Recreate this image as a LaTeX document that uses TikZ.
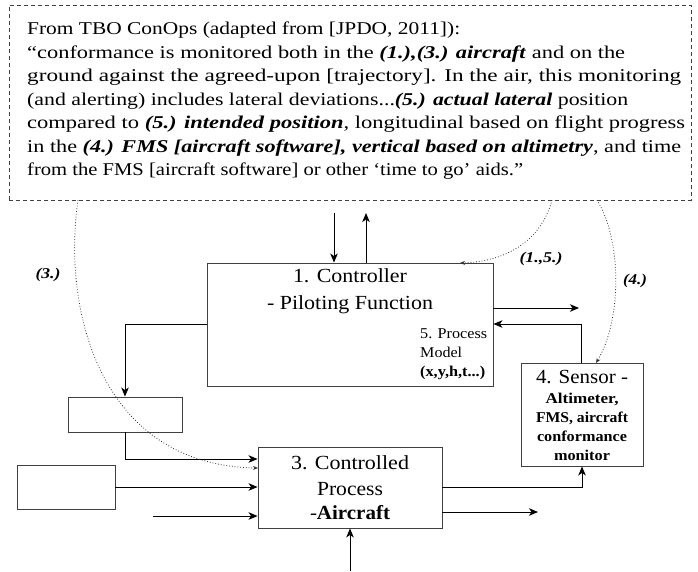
\documentclass[tikz,border=0pt]{standalone}
\usepackage{graphicx}
\usepackage{fontspec}
\setmainfont{Liberation Serif}
\usetikzlibrary{arrows.meta}
\newcommand\bfit[1]{\textbf{\textit{#1}}}
% set a line of text to a given width (in pt) by scaling it horizontally
\newsavebox\fitbox
\newdimen\fitdim
\makeatletter
\newcommand\fitto[2]{%
  \sbox\fitbox{#2}%
  \fitdim=\dimexpr 1pt*\number\dimexpr #1pt\relax/\number\wd\fitbox\relax
  \scalebox{\strip@pt\fitdim}[1]{\usebox\fitbox}}
\makeatother
\begin{document}
\begin{tikzpicture}[x=1pt,y=-1pt,
  box/.style={draw=black!75, line width=0.9pt, inner sep=0pt},
  flow/.style={draw=black, line width=0.9pt, -{Stealth[length=9pt,width=7.5pt,inset=2.5pt]}},
  link/.style={draw=black!80, line width=0.8pt, dotted, -{Stealth[length=5pt,width=4pt]}},
  quote/.style={anchor=base west, inner sep=0pt, font=\fontsize{18}{23.5}\selectfont},
  big/.style={anchor=base, inner sep=0pt, font=\fontsize{20}{26}\selectfont},
  small/.style={anchor=base, inner sep=0pt, font=\fontsize{15}{19}\selectfont\bfseries},
  model/.style={anchor=base west, inner sep=0pt, font=\fontsize{15}{19}\selectfont},
  tag/.style={inner sep=0pt, font=\fontsize{15}{18}\selectfont\bfseries\itshape}
]
\useasboundingbox (0,0) rectangle (698,571);

% quoted context
\node[draw=black!75, line width=0.8pt, dash pattern=on 4pt off 3pt,
      minimum width=682, minimum height=195, anchor=north west, inner sep=0pt] (ctx) at (9,5) {};
\node[quote] (q1) at (27,34.5) {\fitto{433}{From TBO ConOps (adapted from [JPDO, 2011]):}};
\node[quote] (q2) at (27,58) {\fitto{598}{“conformance is monitored both in the \bfit{(1.),(3.) aircraft} and on the}};
\node[quote] (q3) at (27,81.5) {\fitto{654}{ground against the agreed-upon [trajectory]. In the air, this monitoring}};
\node[quote] (q4) at (27,105) {\fitto{601}{(and alerting) includes lateral deviations...\bfit{(5.) actual lateral} position}};
\node[quote] (q5) at (27,128.5) {\fitto{658}{compared to \bfit{(5.) intended position}, longitudinal based on flight progress}};
\node[quote] (q6) at (27,152) {\fitto{654}{in the \bfit{(4.) FMS [aircraft software], vertical based on altimetry}, and time}};
\node[quote] (q7) at (27,175.5) {\fitto{496}{from the FMS [aircraft software] or other ‘time to go’ aids.”}};

% controller
\node[box, minimum width=286, minimum height=123] (ctrl) at (350,324.5) {};
\node[big] (ct1) at (350,282) {\fitto{114}{1. Controller}};
\node[big] (ct2) at (350,309) {\fitto{166}{- Piloting Function}};
\node[model] (pm1) at (420,338) {\fitto{67}{5. Process}};
\node[model] (pm2) at (420,357) {\fitto{42}{Model}};
\node[model] (pm3) at (420,376) {\fitto{65}{\textbf{(x,y,h,t...)}}};

% sensor
\node[box, minimum width=122, minimum height=103] (sensor) at (582,414.5) {};
\node[big] (st1) at (582,383) {\fitto{92}{4. Sensor -}};
\node[small] (st2) at (582,403) {\fitto{73}{Altimeter,}};
\node[small] (st3) at (582,422) {\fitto{92}{FMS, aircraft}};
\node[small] (st4) at (582,441) {\fitto{90}{conformance}};
\node[small] (st5) at (582,460) {\fitto{56}{monitor}};

% actuator and disturbance boxes
\node[box, minimum width=114, minimum height=35] (act) at (125,414.5) {};
\node[box, minimum width=98, minimum height=44] (dist) at (66,487) {};

% controlled process
\node[box, minimum width=184, minimum height=81] (proc) at (350,487.5) {};
\node[big] (pt1) at (350,469) {\fitto{118}{3. Controlled}};
\node[big] (pt2) at (350,495) {\fitto{66}{Process}};
\node[big] (pt3) at (350,519) {\fitto{80}{-\textbf{Aircraft}}};

% control loop
\coordinate (cin) at (334,213);
\coordinate (cout) at (366,213);
\coordinate (cright) at (579,308);
\coordinate (fb) at (581,324);
\coordinate (ca) at (125,324.5);
\coordinate (ap) at (125,459);
\coordinate (pin) at (153,516);
\coordinate (ps) at (582,487.5);
\coordinate (pout) at (538,512);
\coordinate (pbot) at (350,571);

\draw[flow] (cin) -- (cin |- ctrl.north);
\draw[flow] (cout |- ctrl.north) -- (cout);
\draw[flow] (cright -| ctrl.east) -- (cright);
\draw[flow] (fb |- sensor.north) -- (fb) -- (fb -| ctrl.east);
\draw[flow] (ctrl.west) -- (ca) -- (act.north);
\draw[flow] (act.south) -- (ap) -- (ap -| proc.west);
\draw[flow] (dist.east) -- (dist.east -| proc.west);
\draw[flow] (pin) -- (pin -| proc.west);
\draw[flow] (proc.east) -- (ps) -- (sensor.south);
\draw[flow] (pout -| proc.east) -- (pout);
\draw[flow] (pbot) -- (proc.south);

% references from the quote
\coordinate (s3) at (78,200);
\coordinate (e3) at (258,468);
\coordinate (s15) at (552,200);
\coordinate (e15) at (460,263);
\coordinate (s4) at (597,200);
\coordinate (e4) at (596,363);
\draw[link] (s3) .. controls (62,310) and (100,465) .. (e3);
\draw[link] (s15) .. controls (540,245) and (500,262) .. (e15);
\draw[link] (s4) .. controls (622,240) and (622,320) .. (e4);
\node[tag] (t3) at (48,275) {\fitto{25}{(3.)}};
\node[tag] (t15) at (541,259) {\fitto{43}{(1.,5.)}};
\node[tag] (t4) at (635,281) {\fitto{24}{(4.)}};
\end{tikzpicture}
\end{document}
